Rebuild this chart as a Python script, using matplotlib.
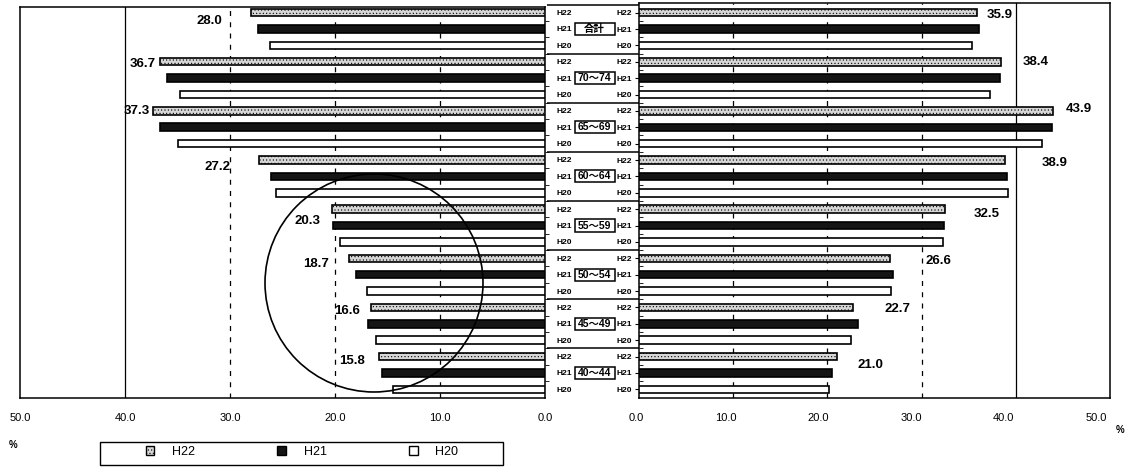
import numpy as np
import matplotlib
matplotlib.use("Agg")
import matplotlib.pyplot as plt
import matplotlib.transforms as mtransforms
from matplotlib.patches import Patch, Ellipse, Rectangle

plt.rcParams["font.family"] = ["Liberation Sans", "Noto Sans CJK JP"]
plt.rcParams["hatch.linewidth"] = 0.4

# data
groups = ["合計", "70～74", "65～69", "60～64", "55～59", "50～54", "45～49", "40～44"]
years = ["H22", "H21", "H20"]
left_h22 = [28.0, 36.7, 37.3, 27.2, 20.3, 18.7, 16.6, 15.8]
left_h21 = [27.3, 36.0, 36.7, 26.1, 20.2, 18.0, 16.9, 15.5]
left_h20 = [26.2, 34.8, 35.0, 25.6, 19.5, 17.0, 16.1, 14.5]
right_h22 = [35.9, 38.4, 43.9, 38.9, 32.5, 26.6, 22.7, 21.0]
right_h21 = [36.1, 38.3, 43.8, 39.1, 32.4, 27.0, 23.3, 20.5]
right_h20 = [35.3, 37.3, 42.8, 39.2, 32.3, 26.7, 22.5, 20.2]
x_ticks = [0, 10, 20, 30, 40, 50]

# label offsets in pixels (the scan puts them a bit irregularly)
left_lab_off = [(-29, -8), (-4, -2), (-3, 0), (-29, -7), (-11, -12), (-20, -6), (-11, -4), (-14, -4)]
right_lab_off = [(9, -2), (22, 0), (13, 2), (36, -3), (29, -5), (36, -3), (32, -2), (21, -8)]
# right tick labels drift left of their gridlines on the scan
right_tick_shift = [-3, -7, -9, -10, -12, -14]

W, H = 1136, 472


def box(x0, y0, x1, y1):
    return [x0 / W, 1 - y1 / H, (x1 - x0) / W, (y1 - y0) / H]


styles = {
    "H22": dict(facecolor="#d6d6d6", edgecolor="black", hatch="....."),
    "H21": dict(facecolor="#151515", edgecolor="black"),
    "H20": dict(facecolor="white", edgecolor="black"),
}

fig = plt.figure(figsize=(W / 100, H / 100), dpi=100)
ax_l = fig.add_axes(box(20, 7, 545, 398))
ax_c = fig.add_axes(box(545, 7, 639, 398))
ax_r = fig.add_axes(box(639, 3, 1110, 398))

n = len(groups)
base = np.arange(n) * 3
left_vals = [left_h22, left_h21, left_h20]
right_vals = [right_h22, right_h21, right_h20]

for k, yr in enumerate(years):
    ax_l.barh(base + k, left_vals[k], height=0.46, linewidth=1.2, zorder=3, **styles[yr])
    ax_r.barh(base + k, right_vals[k], height=0.46, linewidth=1.2, zorder=3, **styles[yr])

rows = np.arange(n * 3)
row_labels = years * n

for ax in (ax_l, ax_r):
    ax.set_xlim(0, 50)
    ax.set_xticks(x_ticks)
    ax.set_xticklabels([f"{t:.1f}" for t in x_ticks])
    ax.tick_params(axis="x", length=0, pad=11, labelsize=8)
    for t in (10, 20, 30):
        ax.axvline(t, color="black", lw=0.9, ls=(0, (4, 5)), zorder=1)
    ax.axvline(40, color="black", lw=0.9, zorder=1)
    ax.set_yticks(rows)
    ax.set_yticks(rows[:-1] + 0.5, minor=True)
    for s in ax.spines.values():
        s.set_linewidth(1.1)

ax_l.set_xlim(50, 0)
ax_l.set_ylim(23.53, -0.34)
ax_r.set_ylim(23.53, -0.59)

for lab, dx in zip(ax_r.get_xticklabels(), right_tick_shift):
    lab.set_transform(lab.get_transform() + mtransforms.ScaledTranslation(dx / 100, 0, fig.dpi_scale_trans))

ax_l.yaxis.tick_right()
ax_l.set_yticklabels(row_labels, fontsize=6, fontweight="bold")
ax_l.tick_params(axis="y", which="major", length=0, pad=8)
ax_l.tick_params(axis="y", which="minor", direction="out", length=3, right=True, left=False)

ax_r.set_yticklabels(row_labels, fontsize=6, fontweight="bold")
ax_r.tick_params(axis="y", which="major", direction="out", length=3, pad=2)
ax_r.tick_params(axis="y", which="minor", direction="in", length=3)

# value labels (H22 only)
for g in range(n):
    ax_l.annotate(f"{left_h22[g]:.1f}", xy=(left_h22[g], base[g]), xytext=left_lab_off[g],
                  textcoords="offset pixels", ha="right", va="center", fontsize=9.5, fontweight="bold")
    ax_r.annotate(f"{right_h22[g]:.1f}", xy=(right_h22[g], base[g]), xytext=right_lab_off[g],
                  textcoords="offset pixels", ha="left", va="center", fontsize=9.5, fontweight="bold")

# centre column: group names in boxes, separators
ax_c.set_xlim(0, 1)
ax_c.set_ylim(23.53, -0.34)
ax_c.axis("off")
for g in range(n):
    ax_c.add_patch(Rectangle((0.315, base[g] + 1 - 0.37), 0.425, 0.74, facecolor="white",
                             edgecolor="black", lw=1.1, zorder=3))
    ax_c.text(0.527, base[g] + 1, groups[g], ha="center", va="center", fontsize=7.5,
              fontweight="bold", zorder=4)
ax_c.hlines([-0.45] + list(base[1:] - 0.5), 0.02, 1, color="black", lw=1.1, clip_on=False)

# hand-drawn circle on the scan
fig.add_artist(Ellipse((374 / W, 1 - 283 / H), 218 / W, 218 / H, transform=fig.transFigure,
                       fill=False, edgecolor="black", lw=1.2))

# legend
handles = [Patch(linewidth=1, **styles[yr]) for yr in years]
fig.legend(handles, years, loc="center", bbox_to_anchor=(302 / W, 1 - 452 / H), ncol=3,
           frameon=False, handlelength=0.7, handleheight=0.7, handletextpad=1.4,
           columnspacing=6.6, fontsize=9)
fig.add_artist(Rectangle((100 / W, 1 - 465 / H), 403 / W, 23 / H, transform=fig.transFigure,
                         fill=False, edgecolor="black", lw=1))

fig.text(13 / W, 1 - 445 / H, "%", fontsize=7, fontweight="bold", ha="center", va="center")
fig.text(1120 / W, 1 - 430 / H, "%", fontsize=7, fontweight="bold", ha="center", va="center")

fig.savefig("out.png", dpi=100)
